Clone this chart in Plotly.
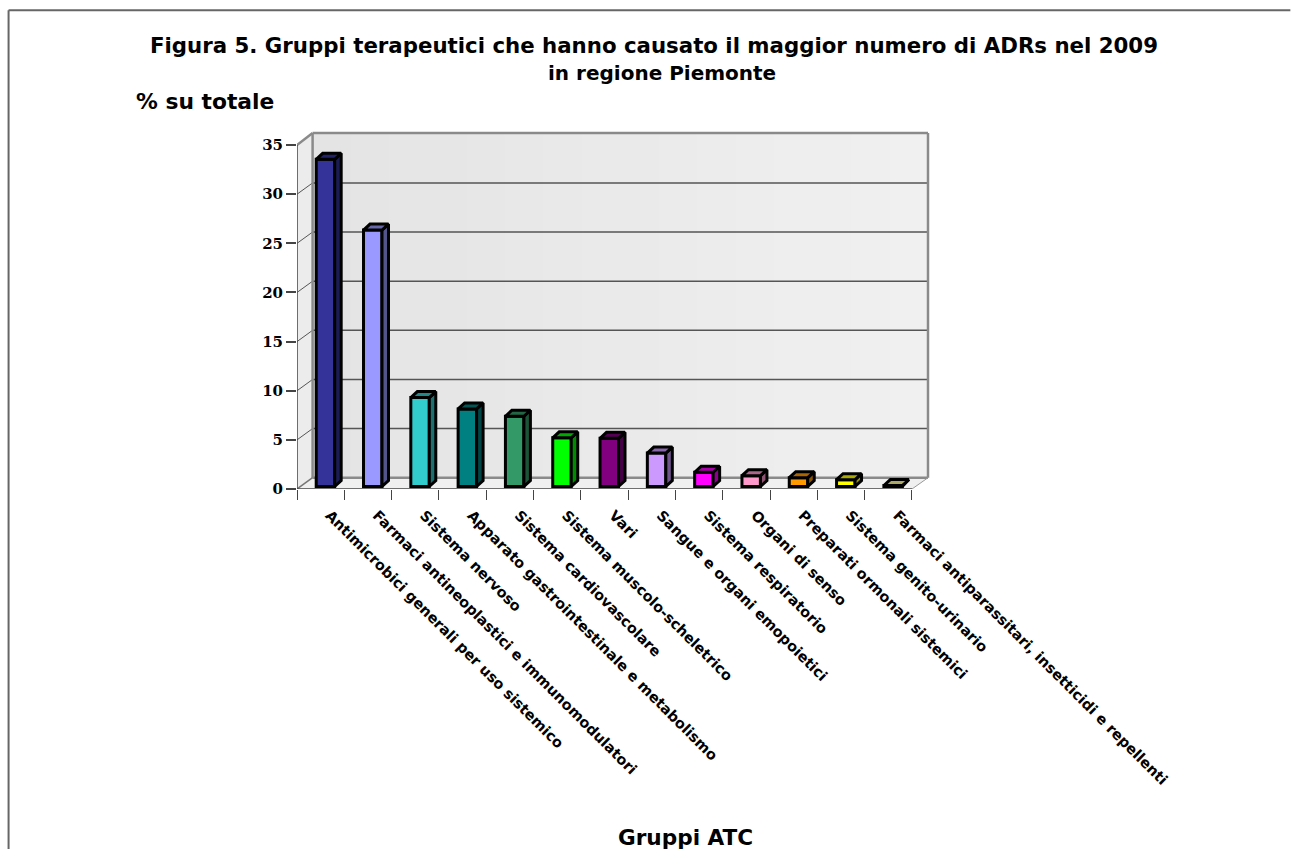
import plotly.graph_objects as go

categories = [
    "Antimicrobici generali per uso sistemico",
    "Farmaci antineoplastici e immunomodulatori",
    "Sistema nervoso",
    "Apparato gastrointestinale e metabolismo",
    "Sistema cardiovascolare",
    "Sistema muscolo-scheletrico",
    "Vari",
    "Sangue e organi emopoietici",
    "Sistema respiratorio",
    "Organi di senso",
    "Preparati ormonali sistemici",
    "Sistema genito-urinario",
    "Farmaci antiparassitari, insetticidi e repellenti",
]
values = [33.3, 26.1, 9.05, 7.9, 7.15, 4.95, 4.9, 3.4, 1.45, 1.1, 0.9, 0.7, 0.1]
front_colors = ["#333399", "#9999FF", "#33CCCC", "#008080", "#339966", "#00FF00", "#800080",
                "#CC99FF", "#FF00FF", "#FF99CC", "#FF9900", "#FFFF00", "#FFFF99"]
y_ticks = [0, 5, 10, 15, 20, 25, 30, 35]

W, H = 1291, 850
LEFT, RIGHT, TOP, BOTTOM = 296.7, 928.3, 133.0, 489.5
PAD = 3.0  # room past the walls so their heavy edges are not clipped
PX_X, PX_Y = 47.35, 9.84

x_min = -0.5
x_max = x_min + (RIGHT - LEFT) / PX_X
y_max = (BOTTOM - TOP) / PX_Y
depth_x = 15.6 / PX_X
depth_y = 11.3 / PX_Y
x_end = x_min + len(categories)

bar_width = 18.5 / PX_X
bar_shift_x = 4.8 / PX_X
bar_base = 2.5 / PX_Y
bar_depth_x = 6.5 / PX_X
bar_depth_y = 6.0 / PX_Y
label_shift_x = 9.0 / PX_X
bar_stroke = 3


def darken(color, factor):
    r, g, b = (int(color[i:i + 2], 16) for i in (1, 3, 5))
    return f"rgb({int(r * factor)},{int(g * factor)},{int(b * factor)})"


def grey(level):
    return f"rgb({level},{level},{level})"


def paper_x(px):
    return (px - LEFT) / (RIGHT + PAD - LEFT)


def paper_y(py):
    return (BOTTOM - py) / (BOTTOM - TOP + PAD)


def polygon(points, fill):
    path = "M " + " L ".join(f"{x},{y}" for x, y in points) + " Z"
    return dict(type="path", path=path, xref="x", yref="y", layer="below",
                fillcolor=fill, line=dict(color=fill, width=0))


def segment(x0, y0, x1, y1, color, width):
    return dict(type="line", xref="x", yref="y", x0=x0, y0=y0, x1=x1, y1=y1,
                layer="below", line=dict(color=color, width=width))


shapes = []

# Back wall, shaded in narrow strips from left to right
wall_x0 = x_min + depth_x
wall_x1 = x_max
strips = 16
for i in range(strips):
    a = wall_x0 + (wall_x1 - wall_x0) * i / strips
    b = wall_x0 + (wall_x1 - wall_x0) * (i + 1) / strips
    level = 228 + round(12 * i / (strips - 1))
    shapes.append(polygon([(a, depth_y), (b + 0.02, depth_y), (b + 0.02, y_max), (a, y_max)], grey(level)))

# Side wall and floor
shapes.append(polygon([(x_min, 0), (wall_x0, depth_y), (wall_x0, y_max), (x_min, 35)], "#ececec"))
shapes.append(polygon([(x_min, 0), (wall_x0, depth_y), (wall_x1, depth_y), (x_end, 0)], "#f0f0f0"))

# Gridlines wrapping from the side wall onto the back wall
for v in y_ticks[1:-1]:
    shapes.append(segment(x_min, v, wall_x0, v + depth_y, "#555555", 1))
    shapes.append(segment(wall_x0, v + depth_y, wall_x1, v + depth_y, "#555555", 1.5))

# Heavy frame around the back wall
for seg in [(x_min, 35, wall_x0, y_max), (wall_x0, y_max, wall_x1, y_max),
            (wall_x0, y_max, wall_x0, depth_y), (wall_x1, y_max, wall_x1, depth_y),
            (wall_x0, depth_y, wall_x1, depth_y)]:
    shapes.append(segment(*seg, "#8a8a8a", 2.5))

shapes.append(segment(x_min, 0, wall_x0, depth_y, "#777777", 1.5))
shapes.append(segment(x_end, 0, wall_x1, depth_y, "#999999", 1))

# Outer page frame
for x0, y0, x1, y1 in [(8, 850, 8, 10), (8, 10, 1291, 10)]:
    shapes.append(dict(type="line", xref="paper", yref="paper",
                       x0=paper_x(x0), y0=paper_y(y0), x1=paper_x(x1), y1=paper_y(y1),
                       line=dict(color="#666666", width=2)))

fig = go.Figure()

# Front faces of the bars
xs = [i + bar_shift_x for i in range(len(values))]
fig.add_trace(go.Bar(
    x=xs, y=values, base=[bar_base] * len(values), width=bar_width,
    marker=dict(color=front_colors, line=dict(color="#000000", width=bar_stroke)),
    hoverinfo="skip", showlegend=False,
))

# Front edge of the floor and the vertical axis line
fig.add_trace(go.Scatter(
    x=[x_min, x_min, x_end], y=[35, 0, 0], mode="lines", cliponaxis=False,
    line=dict(color="#444444", width=1.5), hoverinfo="skip", showlegend=False,
))

# Side and top faces of each bar
for x, v, c in zip(xs, values, front_colors):
    left, right = x - bar_width / 2, x + bar_width / 2
    low, high = bar_base, bar_base + v
    fig.add_trace(go.Scatter(
        x=[right, right + bar_depth_x, right + bar_depth_x, right, right],
        y=[low, low + bar_depth_y, high + bar_depth_y, high, low],
        mode="lines", fill="toself", fillcolor=darken(c, 0.55),
        line=dict(color="#000000", width=bar_stroke), hoverinfo="skip", showlegend=False,
    ))
    fig.add_trace(go.Scatter(
        x=[left, left + bar_depth_x, right + bar_depth_x, right, left],
        y=[high, high + bar_depth_y, high + bar_depth_y, high, high],
        mode="lines", fill="toself", fillcolor=darken(c, 0.67),
        line=dict(color="#000000", width=bar_stroke), hoverinfo="skip", showlegend=False,
    ))

SANS = "DejaVu Sans"
SERIF = "DejaVu Serif"

annotations = [
    dict(text="Figura 5. Gruppi terapeutici che hanno causato il maggior numero di ADRs nel 2009",
         x=paper_x(654), y=paper_y(45), font=dict(family=SANS, size=21.3, color="#000000")),
    dict(text="in regione Piemonte", x=paper_x(662), y=paper_y(73),
         font=dict(family=SANS, size=20, color="#000000")),
    dict(text="% su totale", x=paper_x(205), y=paper_y(101),
         font=dict(family=SANS, size=21.8, color="#000000")),
    dict(text="Gruppi ATC", x=paper_x(686), y=paper_y(838),
         font=dict(family=SANS, size=21.6, color="#000000")),
]
for a in annotations:
    a.update(xref="paper", yref="paper", xanchor="center", yanchor="middle", showarrow=False)
    a["text"] = f"<b>{a['text']}</b>"

fig.update_layout(
    width=W, height=H, autosize=False,
    margin=dict(l=LEFT, r=W - RIGHT - PAD, t=TOP - PAD, b=H - BOTTOM, pad=0),
    paper_bgcolor="#ffffff", plot_bgcolor="rgba(0,0,0,0)",
    shapes=shapes, annotations=annotations,
    xaxis=dict(
        range=[x_min, x_max + PAD / PX_X], showgrid=False, zeroline=False, showline=False,
        tickmode="array", tickvals=[i + label_shift_x for i in range(len(categories))],
        ticktext=[f"<b>{c}</b>" for c in categories],
        tickangle=45, ticks="", ticklen=0, ticklabelstandoff=14,
        tickfont=dict(family=SANS, size=14.5, color="#000000"),
        minor=dict(tickmode="array", tickvals=[x_min + i for i in range(len(categories) + 1)],
                   ticks="outside", ticklen=10, tickcolor="#444444", tickwidth=1, showgrid=False),
    ),
    yaxis=dict(
        range=[0, y_max + PAD / PX_Y], showgrid=False, zeroline=False, showline=False,
        tickmode="array", tickvals=y_ticks, ticktext=[f"<b>{t}</b>" for t in y_ticks],
        ticks="outside", ticklen=10, tickcolor="#444444", tickwidth=1.5,
        tickfont=dict(family=SERIF, size=15, color="#000000"),
    ),
    showlegend=False,
)

fig.write_html("out.html", config=dict(displayModeBar=False))
